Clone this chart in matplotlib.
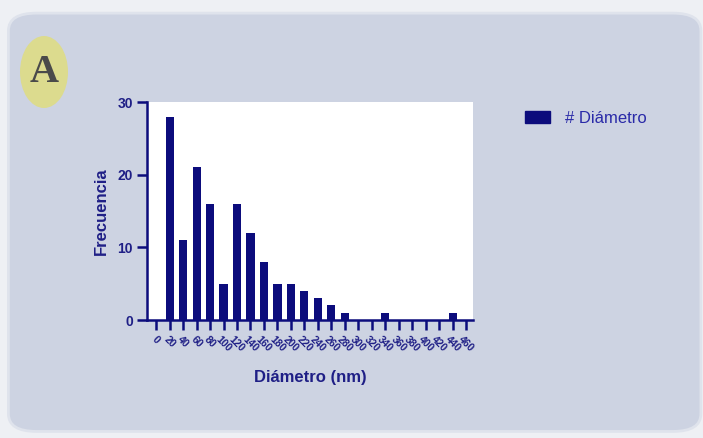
import matplotlib.pyplot as plt
from matplotlib.patches import FancyBboxPatch, Ellipse, Patch

# histogram of particle diameters (bin centres in nm, counts)
diametro = [20, 40, 60, 80, 100, 120, 140, 160, 180, 200, 220, 240,
            260, 280, 300, 320, 340, 360, 380, 400, 420, 440]
frecuencia = [28, 11, 21, 16, 5, 16, 12, 8, 5, 5, 4, 3,
              2, 1, 0, 0, 1, 0, 0, 0, 0, 1]
x_ticks = list(range(0, 461, 20))
y_ticks = [0, 10, 20, 30]

navy = "#0c0c7c"
label_col = "#1f1f86"

plt.rcParams["font.family"] = ["Liberation Sans", "DejaVu Sans"]

fig = plt.figure(figsize=(7.03, 4.38), dpi=100)
fig.patch.set_facecolor("#eef0f4")

# rounded card behind everything
card = FancyBboxPatch((0.012, 0.015), 0.985, 0.955,
                      boxstyle="round,pad=0,rounding_size=0.04",
                      transform=fig.transFigure, facecolor="#cdd3e2",
                      edgecolor="#dfe3ec", linewidth=2, zorder=-5)
fig.patches.append(card)

# panel letter on yellow ellipse
badge = Ellipse((44 / 703, 1 - 72 / 438), 48 / 703, 72 / 438,
                transform=fig.transFigure, facecolor="#dcdb8e",
                edgecolor="none", zorder=-4)
fig.patches.append(badge)
fig.text(44 / 703, 1 - 72 / 438, "A", family="Liberation Serif",
         fontsize=29, fontweight="bold", color="#4a4a4a",
         ha="center", va="center")

ax = fig.add_axes([147 / 703, 1 - 320 / 438, 326 / 703, 218 / 438])
ax.set_zorder(2)
ax.set_facecolor("white")
ax.bar(diametro, frecuencia, width=12, color=navy, zorder=2)

ax.set_xlim(-13.5, 470)
ax.set_ylim(0, 30)
ax.set_xticks(x_ticks)
ax.set_xticklabels([str(v) for v in x_ticks], rotation=-45, ha="center",
                   va="top", fontsize=7.5, fontweight="bold",
                   color=label_col)
ax.set_yticks(y_ticks)
ax.set_yticklabels([str(v) for v in y_ticks], fontsize=10,
                   fontweight="bold", color=label_col)
ax.tick_params(axis="both", direction="out", length=7, width=1.8,
               color=navy, pad=3)

for side in ["top", "right"]:
    ax.spines[side].set_visible(False)
for side in ["left", "bottom"]:
    ax.spines[side].set_color(navy)
    ax.spines[side].set_linewidth(1.8)

ax.set_xlabel("Diámetro (nm)", fontsize=12, fontweight="bold",
              color=label_col, labelpad=12)
ax.set_ylabel("Frecuencia", fontsize=12, fontweight="bold",
              color=label_col, labelpad=6)

handle = Patch(facecolor=navy, edgecolor=navy, label="# Diámetro")
fig.legend(handles=[handle], loc="upper left",
           bbox_to_anchor=(510 / 703, 1 - 96 / 438), frameon=False,
           fontsize=12, labelcolor="#2a2aa8", handlelength=1.5,
           handleheight=0.7, handletextpad=0.9)

fig.savefig("out.png", dpi=100, facecolor=fig.get_facecolor())
